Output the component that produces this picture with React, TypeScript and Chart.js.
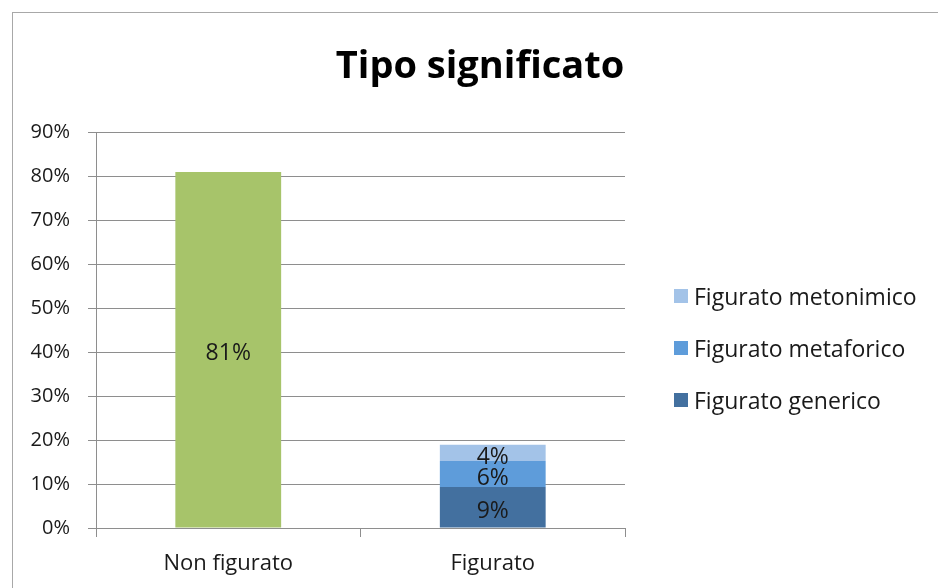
import React, { useEffect, useRef } from 'react';
import { Chart, registerables } from 'chart.js';

Chart.register(...registerables);

const titleText = 'Tipo significato';
const categories = ['Non figurato', 'Figurato'];
const nonFiguratoValues = [80.9, null];
const genericoValues = [null, 9.3];
const metaforicoValues = [null, 5.9];
const metonimicoValues = [null, 3.7];
const yMin = 0;
const yMax = 90;
const yStep = 10;

const FONT = "'Open Sans', 'DejaVu Sans', sans-serif";
const TEXT = '#1a1a1a';
const GRID = '#8e8e8e';

const valueLabels = {
  id: 'valueLabels',
  afterDatasetsDraw(chart: any) {
    const ctx = chart.ctx;
    ctx.save();
    ctx.font = `23px ${FONT}`;
    ctx.fillStyle = TEXT;
    ctx.textAlign = 'center';
    ctx.textBaseline = 'middle';
    chart.data.datasets.forEach((ds: any, i: number) => {
      const meta = chart.getDatasetMeta(i);
      meta.data.forEach((el: any, j: number) => {
        const v = ds.data[j];
        if (v === null || v === undefined) return;
        const cy = (el.y + el.base) / 2 + 4;
        ctx.fillText(Math.round(v) + '%', el.x, cy);
      });
    });
    ctx.restore();
  },
};

const centeredTitle = {
  id: 'centeredTitle',
  afterDraw(chart: any) {
    const ctx = chart.ctx;
    ctx.save();
    ctx.font = `bold 38px ${FONT}`;
    ctx.fillStyle = '#000';
    ctx.textAlign = 'center';
    ctx.textBaseline = 'alphabetic';
    ctx.fillText(titleText, chart.width / 2, 66);
    ctx.restore();
  },
};

const sideLegend = {
  id: 'sideLegend',
  afterDraw(chart: any) {
    const ctx = chart.ctx;
    const items = chart.data.datasets.filter((d: any) => d.inLegend).slice().reverse();
    const x0 = chart.chartArea.right + 49;
    const yStart = 285;
    const gap = 52;
    ctx.save();
    ctx.font = `23px ${FONT}`;
    ctx.textAlign = 'left';
    ctx.textBaseline = 'middle';
    items.forEach((d: any, k: number) => {
      const cy = yStart + k * gap;
      ctx.fillStyle = d.backgroundColor;
      ctx.fillRect(x0, cy - 8, 14, 14);
      ctx.fillStyle = TEXT;
      ctx.fillText(d.label, x0 + 20, cy + 1);
    });
    ctx.restore();
  },
};

export default function App() {
  const ref = useRef<HTMLCanvasElement | null>(null);

  useEffect(() => {
    if (!ref.current) return;
    const chart = new Chart(ref.current, {
      type: 'bar',
      data: {
        labels: categories,
        datasets: [
          { label: 'Non figurato', data: nonFiguratoValues, backgroundColor: '#A7C46A', inLegend: false },
          { label: 'Figurato generico', data: genericoValues, backgroundColor: '#43709F', inLegend: true },
          { label: 'Figurato metaforico', data: metaforicoValues, backgroundColor: '#5E9CDA', inLegend: true },
          { label: 'Figurato metonimico', data: metonimicoValues, backgroundColor: '#A3C3E8', inLegend: true },
        ] as any,
      },
      options: {
        responsive: false,
        animation: false,
        layout: { padding: { left: 0, right: 323, top: 120, bottom: 0 } },
        datasets: { bar: { barPercentage: 0.4, categoryPercentage: 1, skipNull: false } } as any,
        plugins: {
          legend: { display: false },
          tooltip: { enabled: false },
          title: { display: false },
        },
        scales: {
          x: {
            stacked: true,
            offset: true,
            grid: { drawOnChartArea: false, offset: true, tickLength: 9, color: GRID },
            border: { color: GRID },
            ticks: { color: TEXT, font: { family: FONT, size: 22 }, padding: 14, maxRotation: 0 },
            afterFit: (s: any) => { s.height = 60; },
          },
          y: {
            stacked: true,
            min: yMin,
            max: yMax,
            grid: { color: GRID, tickLength: 8 },
            border: { color: GRID },
            ticks: {
              stepSize: yStep,
              color: TEXT,
              font: { family: FONT, size: 20 },
              padding: 18,
              callback: (v: any) => v + '%',
            },
            afterFit: (s: any) => { s.width = 84; },
          },
        },
      },
      plugins: [valueLabels, sideLegend, centeredTitle],
    });
    return () => chart.destroy();
  }, []);

  return (
    <div style={{ position: 'fixed', left: 0, top: 0, width: 938, height: 588, overflow: 'hidden', background: '#fff' }}>
      <div style={{ position: 'absolute', left: 12, top: 12, width: 1000, height: 1000, border: '1px solid #a8a8a8' }} />
      <canvas ref={ref} width={936} height={576} style={{ position: 'absolute', left: 12, top: 12, width: 936, height: 576 }} />
    </div>
  );
}
